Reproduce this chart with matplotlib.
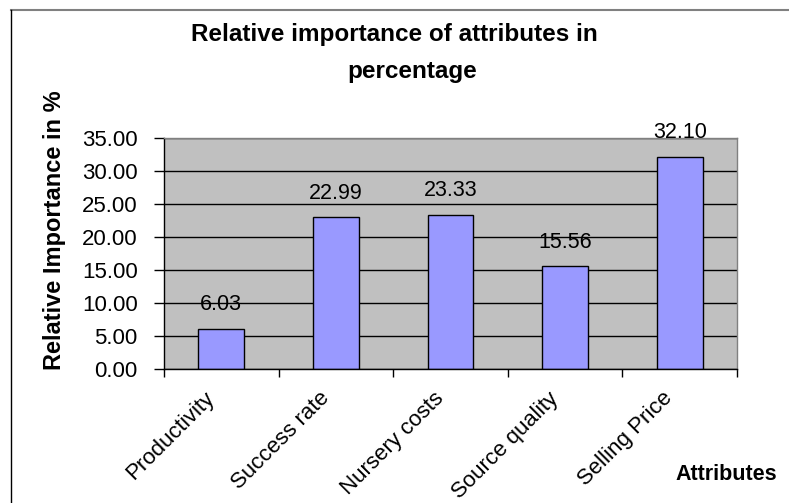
import matplotlib
matplotlib.use("Agg")
import matplotlib.pyplot as plt
from matplotlib.lines import Line2D
from matplotlib.transforms import ScaledTranslation

plt.rcParams["font.family"] = ["Liberation Sans", "DejaVu Sans"]

attributes = ["Productivity", "Success rate", "Nursery costs", "Source quality", "Selling Price"]
importance = [6.03, 22.99, 23.33, 15.56, 32.10]
y_ticks = [0, 5, 10, 15, 20, 25, 30, 35]

W, H = 789, 503
fig = plt.figure(figsize=(W / 100, H / 100), dpi=100)
fig.patch.set_facecolor("white")

# plot area in pixel terms
left, right, top, bottom = 164, 737, 138, 369
ax = fig.add_axes([left / W, 1 - bottom / H, (right - left) / W, (bottom - top) / H])
ax.set_facecolor("#C0C0C0")

x = list(range(len(attributes)))
ax.set_axisbelow(True)
ax.yaxis.grid(True, color="black", linewidth=1)
bars = ax.bar(x, importance, width=0.4, color="#9999FF", edgecolor="black", linewidth=1)

for xi, v in zip(x, importance):
    ax.annotate(f"{v:.2f}", (xi, v), xytext=(0, 13.5), textcoords="offset points",
                ha="center", va="baseline", fontsize=15.5)

ax.set_xlim(-0.5, len(attributes) - 0.5)
ax.set_ylim(0, 35)
ax.set_yticks(y_ticks)
ax.set_yticklabels([f"{t:.2f}" for t in y_ticks], fontsize=16)
ax.tick_params(axis="y", direction="out", length=7, width=1, pad=12)

# category labels at bar centres, tick marks at category boundaries
ax.set_xticks(x)
ax.set_xticklabels(attributes, fontsize=16, rotation=45, ha="right", va="center",
                   rotation_mode="anchor")
ax.tick_params(axis="x", which="major", length=0, pad=19)
ax.set_xticks([i - 0.5 for i in range(len(attributes) + 1)], minor=True)
ax.tick_params(axis="x", which="minor", direction="out", length=6, width=1)
shift = ScaledTranslation(-10 / 100, 0, fig.dpi_scale_trans)
for lab in ax.get_xticklabels():
    lab.set_transform(lab.get_transform() + shift)

for side in ["left", "bottom"]:
    ax.spines[side].set_color("black")
    ax.spines[side].set_linewidth(1)
for side in ["top", "right"]:
    ax.spines[side].set_color("#808080")
    ax.spines[side].set_linewidth(1)

# title, wrapped over two lines
fig.text(394 / W, 1 - 41 / H, "Relative importance of attributes in", ha="center",
         va="baseline", fontsize=17.5, fontweight="bold")
fig.text(412 / W, 1 - 78 / H, "percentage", ha="center", va="baseline",
         fontsize=17.5, fontweight="bold")

fig.text(55 / W, 1 - 230 / H, "Relative Importance in %", rotation=90, ha="center",
         va="center", fontsize=17, fontweight="bold")
fig.text(726 / W, 1 - 480 / H, "Attributes", ha="center", va="baseline",
         fontsize=15.5, fontweight="bold")

# chart frame
fig.add_artist(Line2D([11 / W, 1], [1 - 10 / H, 1 - 10 / H], color="#808080", linewidth=1.5))
fig.add_artist(Line2D([11 / W, 11 / W], [0, 1 - 10 / H], color="black", linewidth=1))

fig.savefig("out.png", dpi=100)
